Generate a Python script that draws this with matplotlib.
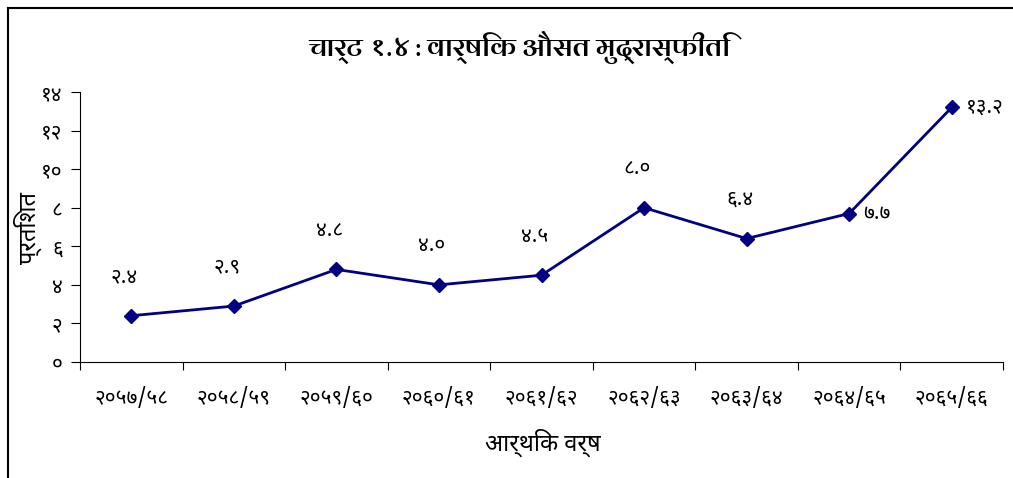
import matplotlib
matplotlib.use("Agg")
from matplotlib import pyplot as plt
from matplotlib import font_manager
from matplotlib.lines import Line2D

years = ["२०५७/५८", "२०५८/५९", "२०५९/६०", "२०६०/६१", "२०६१/६२",
         "२०६२/६३", "२०६३/६४", "२०६४/६५", "२०६५/६६"]
inflation = [2.4, 2.9, 4.8, 4.0, 4.5, 8.0, 6.4, 7.7, 13.2]
value_labels = ["२.४", "२.९", "४.८", "४.०", "४.५", "८.०", "६.४", "७.७", "१३.२"]
yticks = [0, 2, 4, 6, 8, 10, 12, 14]
ytick_labels = ["०", "२", "४", "६", "८", "१०", "१२", "१४"]
title = "चार्ट १.४ : वार्षिक औसत मुद्रास्फीति"
xlabel = "आर्थिक वर्ष"
ylabel = "प्रतिशत"

installed = {f.name for f in font_manager.fontManager.ttflist}


def pick(names):
    for n in names:
        if n in installed:
            return [n, "DejaVu Sans"]
    return ["DejaVu Sans"]


body_font = pick(["Noto Sans Devanagari", "Hind", "Mukta", "Ek Mukta", "FreeSans"])
title_font = pick(["Arya", "Yantramanav", "Noto Sans Devanagari", "Hind", "FreeSans"])
plt.rcParams["font.family"] = body_font

fig = plt.figure(figsize=(10.13, 4.78), dpi=100)
ax = fig.add_axes([80 / 1013, 1 - 362 / 478, 923 / 1013, 270 / 478])

x = list(range(len(inflation)))
ax.plot(x, inflation, color="#000080", lw=2, marker="D", markersize=7.5)

for i, (v, lab) in enumerate(zip(inflation, value_labels)):
    if i >= len(inflation) - 2:
        ax.annotate(lab, (i, v), xytext=(10, 0), textcoords="offset points",
                    ha="left", va="center", fontsize=15)
    else:
        ax.annotate(lab, (i, v), xytext=(-5, 28), textcoords="offset points",
                    ha="center", va="center", fontsize=15)

ax.set_xlim(-0.5, len(inflation) - 0.5)
ax.set_ylim(0, 14)
ax.set_yticks(yticks)
ax.set_yticklabels(ytick_labels, fontsize=15)
ax.set_xticks([i - 0.5 for i in range(len(inflation) + 1)])
ax.set_xticklabels([])
ax.set_xticks(x, minor=True)
ax.set_xticklabels(years, minor=True, fontsize=15)
ax.tick_params(axis="x", which="minor", length=0, pad=18)
ax.tick_params(axis="x", which="major", length=6, direction="out")
ax.tick_params(axis="y", length=6.5, direction="out", pad=6)
for s in ["top", "right"]:
    ax.spines[s].set_visible(False)

ax.set_xlabel(xlabel, fontsize=17)
ax.xaxis.set_label_coords(463 / 923, -67 / 270)
ax.set_ylabel(ylabel, fontsize=17)
ax.yaxis.set_label_coords(-38 / 923, 134 / 270)
fig.text(519 / 1013, 1 - 47 / 478, title, ha="center", va="center",
         fontsize=19.5, fontweight="bold", family=title_font)

# outer frame
fig.add_artist(Line2D([8 / 1013, 8 / 1013], [0, 1 - 8 / 478], color="black", lw=1.5,
                      transform=fig.transFigure))
fig.add_artist(Line2D([8 / 1013, 1], [1 - 8 / 478, 1 - 8 / 478], color="black", lw=1.5,
                      transform=fig.transFigure))

fig.savefig("out.png", dpi=100)
